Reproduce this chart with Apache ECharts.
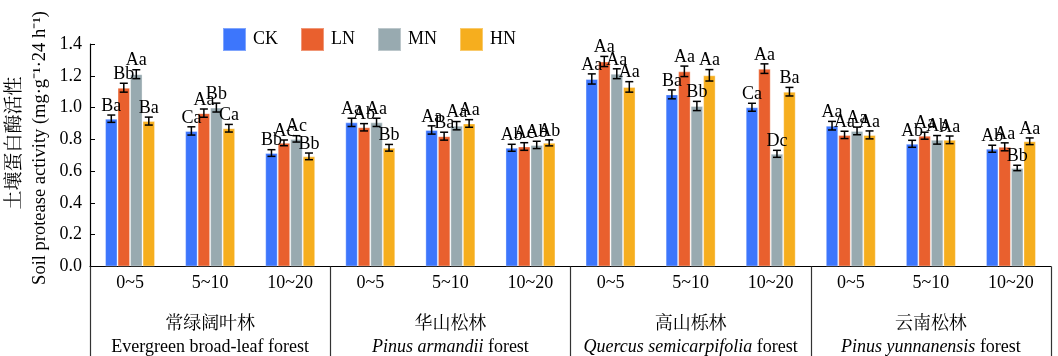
<!DOCTYPE html>
<html>
<head>
<meta charset="utf-8">
<script src="https://cdn.jsdelivr.net/npm/echarts@6/dist/echarts.min.js"></script>
<style>html,body{margin:0;padding:0;background:#fff}#c{width:1058px;height:356px}</style>
</head>
<body>
<div id="c"></div>
<script>
var depths = ['0~5','5~10','10~20','0~5','5~10','10~20','0~5','5~10','10~20','0~5','5~10','10~20'];
var groups = ['常绿阔叶林|Evergreen broad-leaf forest|', '华山松林|Pinus armandii| forest', '高山栎林|Quercus semicarpifolia| forest', '云南松林|Pinus yunnanensis| forest'];
var seriesNames = ['CK','LN','MN','HN'];
var yTicks = ['0.0','0.2','0.4','0.6','0.8','1.0','1.2','1.4'];

var CK = [0.93,0.853,0.714, 0.907,0.859,0.747, 1.18,1.083,1.002, 0.886,0.772,0.741];
var LN = [1.125,0.965,0.778, 0.876,0.82,0.755, 1.29,1.228,1.245, 0.828,0.823,0.753];
var MN = [1.21,1.0,0.803, 0.907,0.886,0.765, 1.213,1.01,0.709, 0.853,0.797,0.62];
var HN = [0.915,0.87,0.693, 0.747,0.9,0.778, 1.13,1.203,1.1, 0.828,0.797,0.788];

var CKerr = [0.023,0.026,0.021, 0.026,0.026,0.022, 0.032,0.028,0.025, 0.027,0.022,0.022];
var LNerr = [0.028,0.026,0.018, 0.023,0.025,0.024, 0.032,0.033,0.03, 0.023,0.022,0.025];
var MNerr = [0.028,0.028,0.02, 0.026,0.026,0.023, 0.031,0.029,0.022, 0.024,0.027,0.017];
var HNerr = [0.025,0.024,0.021, 0.021,0.024,0.019, 0.033,0.036,0.027, 0.025,0.024,0.021];

var CKsig = ['Ba','Ca','Bb', 'Aa','Aa','Ab', 'Aa','Ba','Ca', 'Aa','Ab','Ab'];
var LNsig = ['Bb','Aa','Ac', 'Ab','Ba','Ac', 'Aa','Aa','Aa', 'Aa','Aa','Aa'];
var MNsig = ['Aa','Bb','Ac', 'Aa','Aa','Ab', 'Aa','Bb','Dc', 'Aa','Ab','Bb'];
var HNsig = ['Ba','Ca','Bb', 'Bb','Aa','Ab', 'Aa','Aa','Ba', 'Aa','Aa','Aa'];

var values = [CK, LN, MN, HN];
var errs = [CKerr, LNerr, MNerr, HNerr];
var sigs = [CKsig, LNsig, MNsig, HNsig];
var colors = ['#3d76fc','#e9602e','#98aab0','#f6ae1e'];

var FONT = '"Liberation Serif","Times New Roman",serif';
var CJK = '"Liberation Serif","Noto Serif CJK SC","Noto Sans CJK SC",serif';
var BW = 12.5;

var chart = echarts.init(document.getElementById('c'));

var series = [];
seriesNames.forEach(function(name, si){
  series.push({
    name: name, type: 'bar', xAxisIndex: 0, yAxisIndex: 0,
    data: values[si], barWidth: BW, barGap: '0%',
    itemStyle: {color: colors[si], borderColor: 'rgba(255,255,255,0.35)', borderWidth: 1},
    z: 2
  });
});
seriesNames.forEach(function(name, si){
  var data = values[si].map(function(v, i){ return [i, v, errs[si][i], sigs[si][i]]; });
  series.push({
    type: 'custom', xAxisIndex: 0, yAxisIndex: 0, z: 5,
    data: data,
    renderItem: function(params, api){
      var idx = api.value(0), v = api.value(1), e = api.value(2);
      var c = api.coord([idx, v]);
      var x = c[0] + (si - 1.5) * BW;
      var top = api.coord([idx, v + e])[1];
      var bot = api.coord([idx, v - e])[1];
      var cap = 4;
      var st = {stroke: '#000', lineWidth: 1.5};
      return {type: 'group', children: [
        {type:'line', shape:{x1:x,y1:top,x2:x,y2:bot}, style:st},
        {type:'line', shape:{x1:x-cap,y1:top,x2:x+cap,y2:top}, style:st},
        {type:'line', shape:{x1:x-cap,y1:bot,x2:x+cap,y2:bot}, style:st},
        {type:'text', style:{text: sigs[si][params.dataIndex], x:x, y:top, align:'center', verticalAlign:'bottom', font:'18px ' + FONT, fill:'#000'}}
      ]};
    }
  });
});

var option = {
  animation: false,
  color: colors,
  legend: {
    data: seriesNames, left: 222, top: 27, padding: 0, itemWidth: 23, itemHeight: 23, itemGap: 22,
    icon: 'rect',
    textStyle: {fontFamily: FONT, fontSize: 18, color: '#000', padding:[0,0,0,2]}
  },
  grid: [{left: 90, right: 7, top: 44, bottom: 87}],
  xAxis: [
    {type: 'category', data: depths, gridIndex: 0,
     axisLine: {show: true, lineStyle: {color: '#000', width: 1.2}},
     axisTick: {show: false},
     axisLabel: {fontFamily: FONT, fontSize: 18, color: '#000', margin: 8, interval: 0}},
    {type: 'category', data: groups, gridIndex: 0, position: 'bottom',
     axisLine: {show: false},
     axisTick: {show: true, length: 95, interval: 0, lineStyle: {color: '#333', width: 1.2}},
     axisLabel: {margin: 46, interval: 0,
       formatter: function(v){
         var p = v.split('|');
         var l2 = p[2] ? '{it|' + p[1] + '}{en|' + p[2] + '}' : '{en|' + p[1] + '}';
         return '{cn|' + p[0] + '}\n' + l2;
       },
       rich: {
         cn: {fontFamily: CJK, fontSize: 18, color: '#000', lineHeight: 23},
         en: {fontFamily: FONT, fontSize: 18, color: '#000', lineHeight: 23},
         it: {fontFamily: FONT, fontSize: 18, fontStyle: 'italic', color: '#000', lineHeight: 23}
       }}}
  ],
  yAxis: [{type: 'value', min: 0, max: 1.4, interval: 0.2,
    axisLine: {show: true, lineStyle: {color: '#000', width: 1.2}},
    axisTick: {show: true, inside: true, length: 5, lineStyle: {color: '#000'}},
    splitLine: {show: false},
    axisLabel: {fontFamily: FONT, fontSize: 18, color: '#000', margin: 8,
      formatter: function(v){ return yTicks[Math.round(v / 0.2)]; }}}],
  graphic: [
    {type: 'text', x: 15, y: 143, rotation: Math.PI/2,
     style: {text: '土壤蛋白酶活性', font: '19px ' + CJK, fill: '#000', align: 'center', verticalAlign: 'middle'}},
    {type: 'text', x: 40, y: 148, rotation: Math.PI/2,
     style: {text: 'Soil protease activity (mg·g⁻¹·24 h⁻¹)', font: '18.5px ' + FONT, fill: '#000', align: 'center', verticalAlign: 'middle'}}
  ],
  series: series
};
chart.setOption(option);
</script>
</body>
</html>
